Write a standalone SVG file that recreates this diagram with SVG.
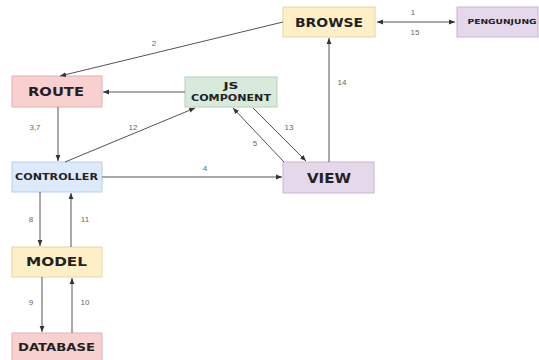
<svg xmlns="http://www.w3.org/2000/svg" width="539" height="360" viewBox="0 0 539 360">
<style>
.box{stroke-width:1}
.t{font-family:"DejaVu Sans","Liberation Sans",Arial,sans-serif;font-weight:bold;fill:#222;text-anchor:middle;dominant-baseline:central}
.l{font-family:"Liberation Sans",Arial,sans-serif;font-size:8px;fill:#666;text-anchor:middle;dominant-baseline:central}
.c{stroke:#555;stroke-width:1;fill:none;marker-end:url(#a)}
</style>
<defs>
<marker id="a" viewBox="0 0 10 10" refX="10" refY="5" markerWidth="6" markerHeight="6" orient="auto-start-reverse" markerUnits="userSpaceOnUse">
<path d="M0,1 L10,5 L0,9 Z" fill="#333"/>
</marker>
</defs>
<rect width="539" height="360" fill="#fff"/>
<g id="browse"><rect class="box" x="283" y="7" width="92" height="30" fill="#fdf0c8" stroke="#e6d6a2"/><text class="t" x="329" y="22" font-size="12.5" textLength="68" lengthAdjust="spacingAndGlyphs">BROWSE</text></g>
<g id="pengunjung"><rect class="box" x="457" y="7" width="81" height="30" fill="#e4d8ea" stroke="#c8b6d3"/><text class="t" x="502" y="22" font-size="7" textLength="69" lengthAdjust="spacingAndGlyphs">PENGUNJUNG</text></g>
<g id="route"><rect class="box" x="12" y="76" width="90" height="31" fill="#f8d0cf" stroke="#e3b2b0"/><text class="t" x="56" y="91.5" font-size="12" textLength="56" lengthAdjust="spacingAndGlyphs">ROUTE</text></g>
<g id="js"><rect class="box" x="185" y="77" width="92" height="30" fill="#d8eadb" stroke="#b4d1b3"/><text class="t" x="231" y="86" font-size="9" textLength="15" lengthAdjust="spacingAndGlyphs">JS</text><text class="t" x="231" y="98" font-size="9" textLength="80" lengthAdjust="spacingAndGlyphs">COMPONENT</text></g>
<g id="controller"><rect class="box" x="12" y="162" width="90" height="30" fill="#dceafb" stroke="#bcd0e8"/><text class="t" x="56.5" y="177" font-size="8.5" textLength="83" lengthAdjust="spacingAndGlyphs">CONTROLLER</text></g>
<g id="view"><rect class="box" x="283" y="162" width="91" height="31" fill="#e4d8ea" stroke="#c8b6d3"/><text class="t" x="329" y="177.5" font-size="14.5" textLength="44" lengthAdjust="spacingAndGlyphs">VIEW</text></g>
<g id="model"><rect class="box" x="12" y="247" width="90" height="30" fill="#fdf0c8" stroke="#e6d6a2"/><text class="t" x="56.5" y="262" font-size="12" textLength="61" lengthAdjust="spacingAndGlyphs">MODEL</text></g>
<g id="database"><rect class="box" x="12" y="333" width="90" height="30" fill="#f8d0cf" stroke="#e3b2b0"/><text class="t" x="56.5" y="347" font-size="10" textLength="77" lengthAdjust="spacingAndGlyphs">DATABASE</text></g>
<g id="connectors">
<path class="c" d="M377,22 L455,22" marker-start="url(#a)"/>
<path class="c" d="M283,22 L60,76"/>
<path class="c" d="M185,92 L103,92"/>
<path class="c" d="M58,107 L58,161"/>
<path class="c" d="M65,162 L195,108"/>
<path class="c" d="M102,177 L282,177"/>
<path class="c" d="M284,162 L233,108"/>
<path class="c" d="M253,108 L306,161"/>
<path class="c" d="M329,162 L329,38"/>
<path class="c" d="M40,192 L40,246"/>
<path class="c" d="M71,247 L71,193"/>
<path class="c" d="M42,277 L42,332"/>
<path class="c" d="M72,333 L72,278"/>
</g>
<g id="labels">
<text class="l" x="413" y="12">1</text>
<text class="l" x="415" y="32">15</text>
<text class="l" x="154" y="43">2</text>
<text class="l" x="35" y="127">3,7</text>
<text class="l" x="133" y="127">12</text>
<text class="l" x="205" y="168">4</text>
<text class="l" x="255" y="143">5</text>
<text class="l" x="289" y="127">13</text>
<text class="l" x="342" y="82">14</text>
<text class="l" x="31" y="219">8</text>
<text class="l" x="85" y="219">11</text>
<text class="l" x="31" y="302">9</text>
<text class="l" x="85" y="302">10</text>
</g>
</svg>
